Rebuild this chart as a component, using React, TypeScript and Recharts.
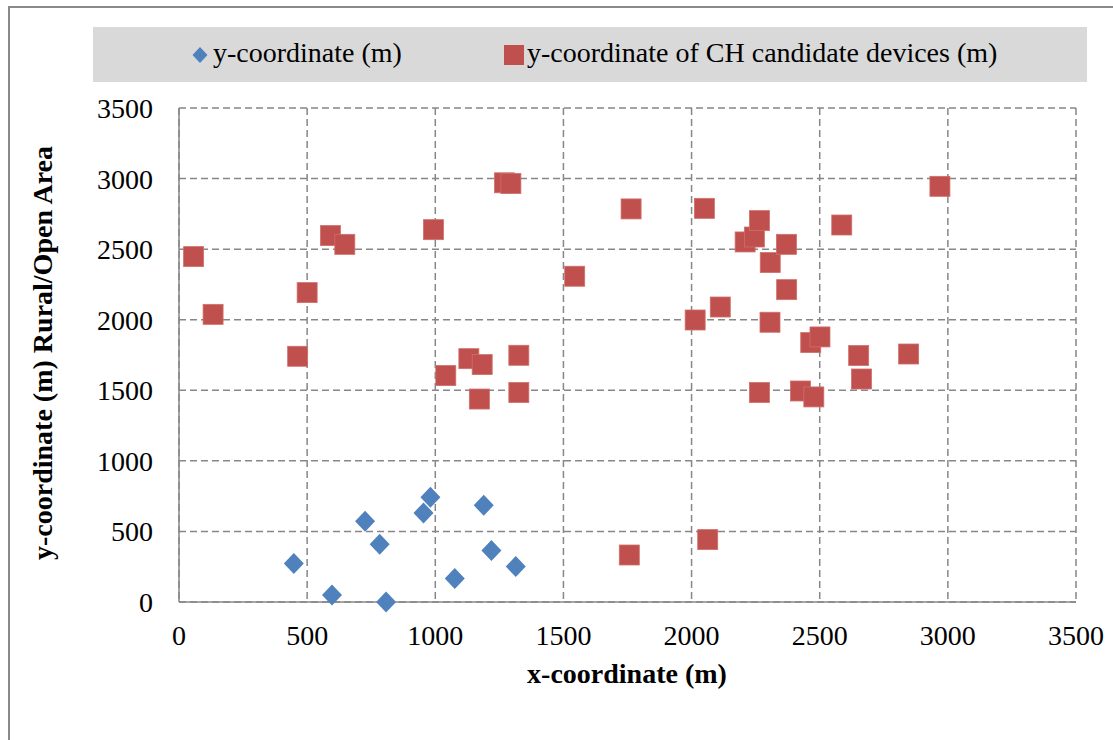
import React from 'react';
import { ScatterChart, Scatter, XAxis, YAxis, CartesianGrid, Legend } from 'recharts';

const seriesNames = ['y-coordinate (m)', 'y-coordinate of CH candidate devices (m)'];
const axisTicks = [0, 500, 1000, 1500, 2000, 2500, 3000, 3500];
const xTitle = 'x-coordinate (m)';
const yTitle = 'y-coordinate (m) Rural/Open Area';

const deviceX = [448, 597, 726, 783, 808, 954, 981, 1076, 1189, 1219, 1314];
const deviceY = [272, 50, 572, 409, 0, 631, 742, 166, 685, 364, 251];

const chX = [57, 133, 463, 500, 591, 647, 993, 1041, 1131, 1172, 1183, 1270, 1295, 1326, 1326, 1544, 1757, 1764, 2014, 2050, 2063, 2112, 2209, 2245, 2265, 2265, 2306, 2307, 2370, 2371, 2425, 2465, 2477, 2501, 2586, 2652, 2663, 2847, 2969];
const chY = [2447, 2038, 1741, 2192, 2596, 2534, 2638, 1604, 1724, 1438, 1682, 2970, 2965, 1748, 1484, 2308, 333, 2785, 1998, 2789, 442, 2090, 2551, 2586, 2702, 1484, 1982, 2405, 2534, 2213, 1495, 1838, 1453, 1878, 2671, 1746, 1580, 1757, 2945];

const deviceData = deviceX.map((x, i) => ({ x, y: deviceY[i] }));
const chData = chX.map((x, i) => ({ x, y: chY[i] }));

const BLUE = '#4f81bd';
const RED = '#c0504d';
const GRID = '#878787';
const FONT = '"Liberation Serif", "Times New Roman", serif';

const Diamond = (p: any) => {
  const { cx, cy } = p;
  if (cx == null || cy == null) return null;
  return (
    <path
      d={`M${cx},${cy - 10.5} L${cx + 10},${cy} L${cx},${cy + 10.5} L${cx - 10},${cy} Z`}
      fill={BLUE}
    />
  );
};

const Square = (p: any) => {
  const { cx, cy } = p;
  if (cx == null || cy == null) return null;
  return <rect x={cx - 10} y={cy - 10} width={20} height={20} fill={RED} stroke="#cf6f6c" strokeWidth={0.8} />;
};

const LegendContent = () => (
  <div style={{ width: 994, height: 55, background: '#d9d9d9' }}>
    <svg width={994} height={55} style={{ display: 'block' }}>
      <path d="M107,20 L114.5,28 L107,36 L99.5,28 Z" fill={BLUE} />
      <text x={120} y={35} fontFamily={FONT} fontSize={28} fill="#000">
        {seriesNames[0]}
      </text>
      <rect x={411} y={18} width={20} height={20} fill={RED} />
      <text x={434} y={35} fontFamily={FONT} fontSize={28} fill="#000">
        {seriesNames[1]}
      </text>
    </svg>
  </div>
);

export default function App() {
  return (
    <div style={{ position: 'absolute', left: 0, top: 0, width: 1113, height: 740, background: '#fff', overflow: 'hidden' }}>
      <div
        style={{
          position: 'absolute',
          left: 8,
          top: 6,
          width: 1200,
          height: 800,
          borderLeft: '2px solid #8a8a8a',
          borderTop: '2px solid #8a8a8a',
          boxSizing: 'border-box',
        }}
      />
      <div style={{ position: 'absolute', left: 0, top: 0 }}>
        <ScatterChart width={1113} height={740} margin={{ top: 108, right: 37, bottom: 78, left: 9 }}>
          <CartesianGrid stroke={GRID} strokeDasharray="7 4" strokeWidth={1.5} />
          <XAxis
            type="number"
            dataKey="x"
            domain={[0, 3500]}
            ticks={axisTicks}
            interval={0}
            height={60}
            axisLine={{ stroke: GRID, strokeWidth: 1.5 }}
            tickLine={false}
            tickSize={6}
            tickMargin={17}
            tick={{ fontFamily: FONT, fontSize: 28, fill: '#000' }}
            label={{
              content: () => (
                <text x={627} y={683} textAnchor="middle" fontFamily={FONT} fontSize={28} fontWeight="bold" fill="#000">
                  {xTitle}
                </text>
              ),
            }}
          />
          <YAxis
            type="number"
            dataKey="y"
            domain={[0, 3500]}
            ticks={axisTicks}
            interval={0}
            width={170}
            axisLine={{ stroke: GRID, strokeWidth: 1.5 }}
            tickLine={false}
            tickSize={6}
            tickMargin={20}
            tick={{ fontFamily: FONT, fontSize: 28, fill: '#000' }}
            label={{
              content: () => (
                <text
                  x={42}
                  y={353}
                  textAnchor="middle"
                  dominantBaseline="central"
                  transform="rotate(-90 42 353)"
                  fontFamily={FONT}
                  fontSize={28}
                  fontWeight="bold"
                  fill="#000"
                >
                  {yTitle}
                </text>
              ),
            }}
          />
          <Legend
            layout="horizontal"
            verticalAlign="middle"
            align="center"
            content={<LegendContent />}
            wrapperStyle={{ position: 'absolute', top: 27, left: 93, width: 994, height: 55 }}
          />
          <Scatter name={seriesNames[0]} data={deviceData} fill={BLUE} shape={Diamond} isAnimationActive={false} />
          <Scatter name={seriesNames[1]} data={chData} fill={RED} shape={Square} isAnimationActive={false} />
        </ScatterChart>
      </div>
    </div>
  );
}
